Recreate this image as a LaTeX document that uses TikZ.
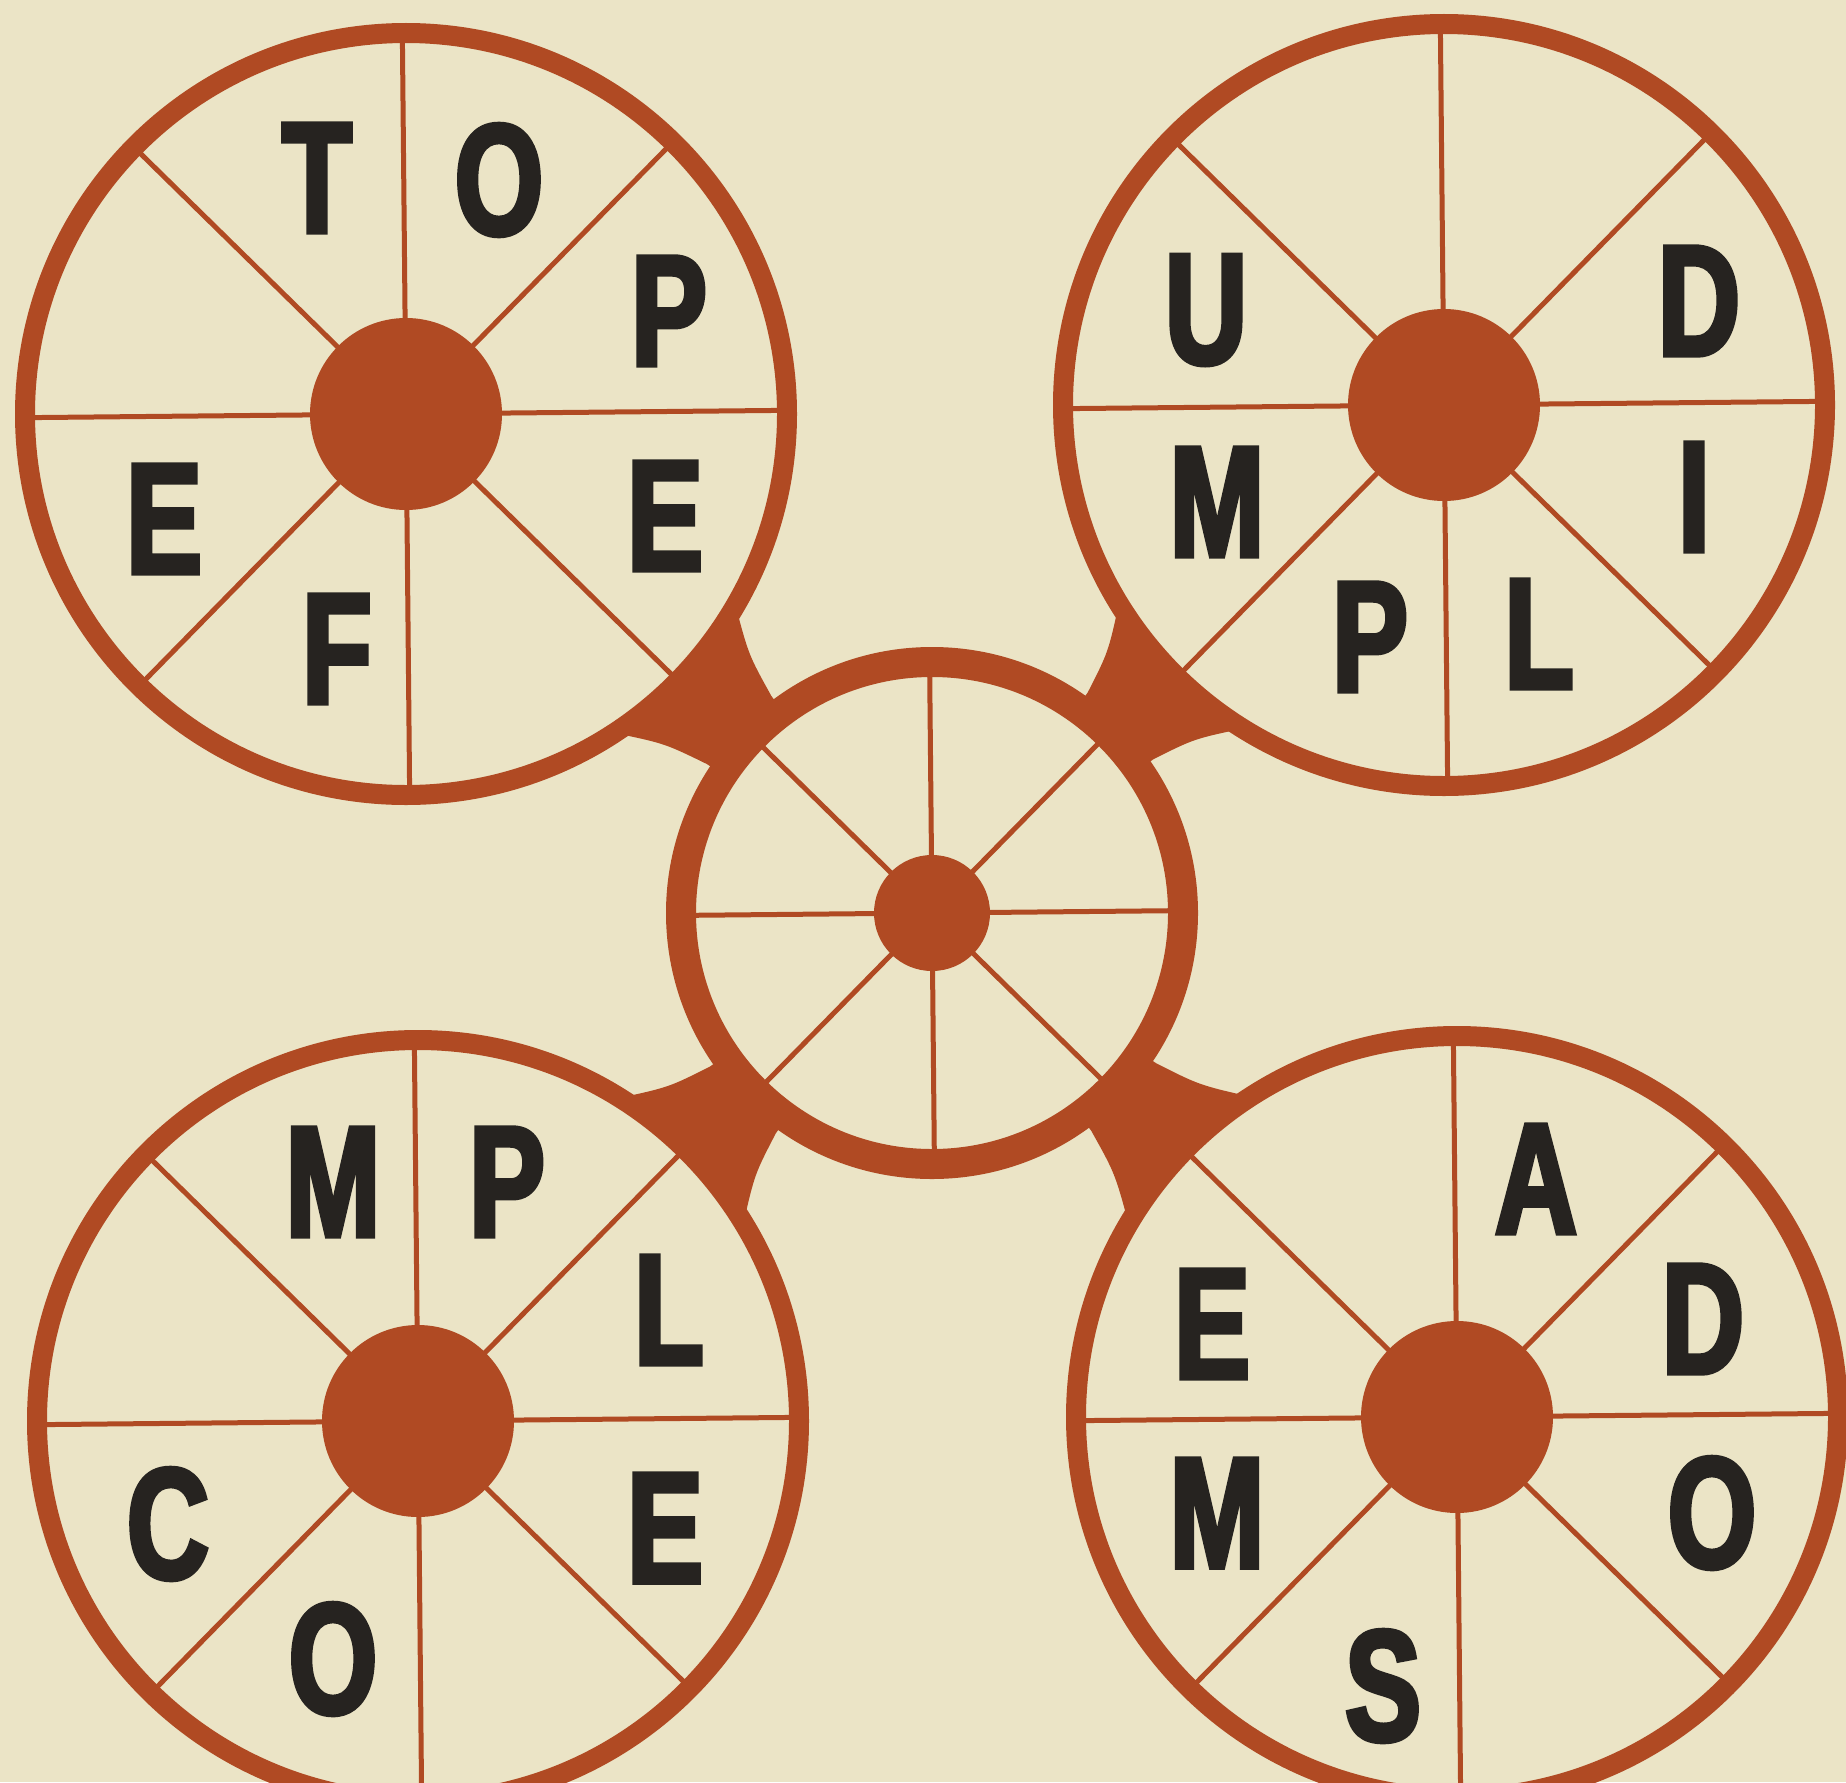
\documentclass[tikz,border=0pt]{standalone}
\usepackage{fontspec}
\newfontfamily\lf{Liberation Sans}[FakeStretch=0.72,FakeBold=3]
\usetikzlibrary{calc}
\definecolor{cream}{HTML}{EBE4C6}
\definecolor{brick}{HTML}{B04A23}
\definecolor{ink}{HTML}{262320}
\begin{document}
\begin{tikzpicture}[x=1pt,y=-1pt,
  spokeline/.style={draw=brick,line width=5pt},
  letter/.style={font=\lf\bfseries\fontsize{158}{158}\selectfont,text=ink,inner sep=0pt,anchor=center}]
\fill[cream] (0,0) rectangle (1846,1782);
\useasboundingbox (0,0) rectangle (1846,1782);
\coordinate (C) at (932,913);
\coordinate (TL) at (406,414);
\coordinate (TR) at (1444,405);
\coordinate (BL) at (418,1421);
\coordinate (BR) at (1457,1417);
% connectors
\foreach \o in {TL,TR,BL,BR}{
  \coordinate (\o-bp) at ($(C)!270pt!10:(\o)$);
  \coordinate (\o-bm) at ($(C)!270pt!-10:(\o)$);
  \coordinate (\o-ap) at ($(\o)!380pt!-13.5:(C)$);
  \coordinate (\o-am) at ($(\o)!380pt!13.5:(C)$);
  \coordinate (\o-mp) at ($(\o-bp)!0.5!(\o-ap)$);
  \coordinate (\o-mm) at ($(\o-bm)!0.5!(\o-am)$);
  \coordinate (\o-kp) at ($(\o-mp)!0.05!(\o-mm)$);
  \coordinate (\o-km) at ($(\o-mm)!0.05!(\o-mp)$);
  \fill[brick] (C) -- (\o-bp) .. controls (\o-kp) .. (\o-ap) -- (\o) -- (\o-am)
     .. controls (\o-km) .. (\o-bm) -- cycle;
}
% wheels
\foreach \o/\R/\w/\h in {TL/381/20/96, TR/381/20/96, BL/381/20/96, BR/381/20/96, C/251/30/58}{
  \fill[cream] (\o) circle (\R);
  \foreach \a in {0,45,...,315}
    \draw[spokeline] (\o) -- ($(\o)+(\a-0.55:\R)$);
  \fill[brick] (\o) circle (\h);
  \draw[brick,line width=\w pt] (\o) circle (\R);
}
% letters top-left
\node[letter] (tl1) at (317,178) {T};
\node[letter] (tl2) at (499,180) {O};
\node[letter] (tl3) at (669,311) {P};
\node[letter] (tl4) at (665,516) {E};
\node[letter] (tl5) at (164,519) {E};
\node[letter] (tl6) at (337,649) {F};
% letters top-right
\node[letter] (tr1) at (1206,310) {U};
\node[letter] (tr2) at (1699,301) {D};
\node[letter] (tr3) at (1217,502) {M};
\node[letter] (tr4) at (1694,497) {I};
\node[letter] (tr5) at (1370,637) {P};
\node[letter] (tr6) at (1539,634) {L};
% letters bottom-left
\node[letter] (bl1) at (333,1182) {M};
\node[letter] (bl2) at (507,1182) {P};
\node[letter] (bl3) at (669,1310) {L};
\node[letter] (bl4) at (168,1524) {C};
\node[letter] (bl5) at (665,1528) {E};
\node[letter] (bl6) at (333,1659) {O};
% letters bottom-right
\node[letter] (br1) at (1536,1179) {A};
\node[letter] (br2) at (1703,1319) {D};
\node[letter] (br3) at (1212,1324) {E};
\node[letter] (br4) at (1217,1513) {M};
\node[letter] (br5) at (1712,1513) {O};
\node[letter] (br6) at (1383,1686) {S};
\end{tikzpicture}
\end{document}
